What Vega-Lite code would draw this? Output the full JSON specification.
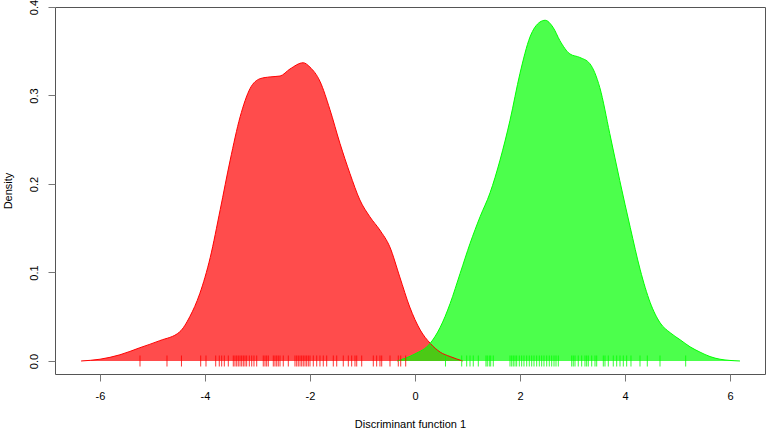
{
  "$schema": "https://vega.github.io/schema/vega-lite/v6.json",
  "width": 710,
  "height": 367,
  "autosize": {"type": "none"},
  "padding": {"left": 55, "top": 7, "right": 2, "bottom": 55},
  "background": "white",
  "config": {
    "view": {"stroke": "#555555", "strokeWidth": 1},
    "font": "Liberation Sans",
    "axis": {
      "domain": false,
      "grid": false,
      "tickColor": "#777777",
      "tickSize": 7,
      "labelFont": "Liberation Sans",
      "labelFontSize": 11,
      "labelColor": "#000000",
      "titleFont": "Liberation Sans",
      "titleFontSize": 11,
      "titleFontWeight": "normal",
      "titleColor": "#000000"
    }
  },
  "datasets": {
    "dens": [
      {"x": -6.36, "density": 0.0, "group": "A"},
      {"x": -6.0, "density": 0.002, "group": "A"},
      {"x": -5.62, "density": 0.007, "group": "A"},
      {"x": -5.24, "density": 0.015, "group": "A"},
      {"x": -4.86, "density": 0.023, "group": "A"},
      {"x": -4.48, "density": 0.033, "group": "A"},
      {"x": -4.29, "density": 0.05, "group": "A"},
      {"x": -4.1, "density": 0.076, "group": "A"},
      {"x": -3.9, "density": 0.117, "group": "A"},
      {"x": -3.71, "density": 0.171, "group": "A"},
      {"x": -3.52, "density": 0.227, "group": "A"},
      {"x": -3.33, "density": 0.276, "group": "A"},
      {"x": -3.14, "density": 0.308, "group": "A"},
      {"x": -2.95, "density": 0.319, "group": "A"},
      {"x": -2.76, "density": 0.321, "group": "A"},
      {"x": -2.57, "density": 0.322, "group": "A"},
      {"x": -2.38, "density": 0.33, "group": "A"},
      {"x": -2.13, "density": 0.337, "group": "A"},
      {"x": -2.0, "density": 0.332, "group": "A"},
      {"x": -1.81, "density": 0.316, "group": "A"},
      {"x": -1.62, "density": 0.284, "group": "A"},
      {"x": -1.43, "density": 0.246, "group": "A"},
      {"x": -1.24, "density": 0.212, "group": "A"},
      {"x": -1.05, "density": 0.182, "group": "A"},
      {"x": -0.86, "density": 0.163, "group": "A"},
      {"x": -0.67, "density": 0.148, "group": "A"},
      {"x": -0.48, "density": 0.129, "group": "A"},
      {"x": -0.29, "density": 0.095, "group": "A"},
      {"x": -0.1, "density": 0.061, "group": "A"},
      {"x": 0.1, "density": 0.035, "group": "A"},
      {"x": 0.29, "density": 0.02, "group": "A"},
      {"x": 0.48, "density": 0.01, "group": "A"},
      {"x": 0.67, "density": 0.005, "group": "A"},
      {"x": 0.91, "density": 0.0, "group": "A"},
      {"x": -0.34, "density": 0.0, "group": "B"},
      {"x": -0.19, "density": 0.003, "group": "B"},
      {"x": 0.0, "density": 0.008, "group": "B"},
      {"x": 0.29, "density": 0.02, "group": "B"},
      {"x": 0.48, "density": 0.038, "group": "B"},
      {"x": 0.67, "density": 0.065, "group": "B"},
      {"x": 0.86, "density": 0.099, "group": "B"},
      {"x": 1.05, "density": 0.133, "group": "B"},
      {"x": 1.24, "density": 0.163, "group": "B"},
      {"x": 1.43, "density": 0.19, "group": "B"},
      {"x": 1.62, "density": 0.227, "group": "B"},
      {"x": 1.81, "density": 0.272, "group": "B"},
      {"x": 2.0, "density": 0.325, "group": "B"},
      {"x": 2.19, "density": 0.366, "group": "B"},
      {"x": 2.38, "density": 0.383, "group": "B"},
      {"x": 2.48, "density": 0.385, "group": "B"},
      {"x": 2.63, "density": 0.377, "group": "B"},
      {"x": 2.76, "density": 0.362, "group": "B"},
      {"x": 2.95, "density": 0.347, "group": "B"},
      {"x": 3.14, "density": 0.343, "group": "B"},
      {"x": 3.33, "density": 0.336, "group": "B"},
      {"x": 3.52, "density": 0.309, "group": "B"},
      {"x": 3.71, "density": 0.257, "group": "B"},
      {"x": 3.9, "density": 0.204, "group": "B"},
      {"x": 4.1, "density": 0.151, "group": "B"},
      {"x": 4.29, "density": 0.103, "group": "B"},
      {"x": 4.48, "density": 0.066, "group": "B"},
      {"x": 4.67, "density": 0.043, "group": "B"},
      {"x": 4.86, "density": 0.032, "group": "B"},
      {"x": 5.05, "density": 0.024, "group": "B"},
      {"x": 5.24, "density": 0.016, "group": "B"},
      {"x": 5.43, "density": 0.01, "group": "B"},
      {"x": 5.62, "density": 0.005, "group": "B"},
      {"x": 5.81, "density": 0.002, "group": "B"},
      {"x": 6.19, "density": 0.0, "group": "B"}
    ],
    "rug": [
      {"x": -5.238, "group": "A"}, {"x": -4.724, "group": "A"}, {"x": -4.448, "group": "A"},
      {"x": -4.082, "group": "A"}, {"x": -3.981, "group": "A"}, {"x": -3.796, "group": "A"},
      {"x": -3.728, "group": "A"}, {"x": -3.682, "group": "A"}, {"x": -3.632, "group": "A"},
      {"x": -3.556, "group": "A"}, {"x": -3.461, "group": "A"}, {"x": -3.429, "group": "A"},
      {"x": -3.396, "group": "A"}, {"x": -3.366, "group": "A"}, {"x": -3.333, "group": "A"},
      {"x": -3.301, "group": "A"}, {"x": -3.27, "group": "A"}, {"x": -3.238, "group": "A"},
      {"x": -3.206, "group": "A"}, {"x": -3.156, "group": "A"}, {"x": -3.11, "group": "A"},
      {"x": -3.067, "group": "A"}, {"x": -3.015, "group": "A"}, {"x": -2.89, "group": "A"},
      {"x": -2.857, "group": "A"}, {"x": -2.825, "group": "A"}, {"x": -2.794, "group": "A"},
      {"x": -2.699, "group": "A"}, {"x": -2.667, "group": "A"}, {"x": -2.634, "group": "A"},
      {"x": -2.604, "group": "A"}, {"x": -2.571, "group": "A"}, {"x": -2.509, "group": "A"},
      {"x": -2.413, "group": "A"}, {"x": -2.286, "group": "A"}, {"x": -2.253, "group": "A"},
      {"x": -2.223, "group": "A"}, {"x": -2.19, "group": "A"}, {"x": -2.158, "group": "A"},
      {"x": -2.128, "group": "A"}, {"x": -2.095, "group": "A"}, {"x": -2.063, "group": "A"},
      {"x": -2.032, "group": "A"}, {"x": -2.0, "group": "A"}, {"x": -1.937, "group": "A"},
      {"x": -1.872, "group": "A"}, {"x": -1.81, "group": "A"}, {"x": -1.747, "group": "A"},
      {"x": -1.682, "group": "A"}, {"x": -1.556, "group": "A"}, {"x": -1.491, "group": "A"},
      {"x": -1.366, "group": "A"}, {"x": -1.27, "group": "A"}, {"x": -1.206, "group": "A"},
      {"x": -1.143, "group": "A"}, {"x": -1.11, "group": "A"}, {"x": -1.015, "group": "A"},
      {"x": -0.794, "group": "A"}, {"x": -0.73, "group": "A"}, {"x": -0.667, "group": "A"},
      {"x": -0.634, "group": "A"}, {"x": -0.476, "group": "A"}, {"x": -0.318, "group": "A"},
      {"x": -0.272, "group": "A"}, {"x": -0.177, "group": "A"},
      {"x": 0.581, "group": "B"}, {"x": 0.89, "group": "B"}, {"x": 0.985, "group": "B"},
      {"x": 1.048, "group": "B"}, {"x": 1.11, "group": "B"}, {"x": 1.206, "group": "B"},
      {"x": 1.352, "group": "B"}, {"x": 1.377, "group": "B"}, {"x": 1.415, "group": "B"},
      {"x": 1.442, "group": "B"}, {"x": 1.491, "group": "B"}, {"x": 1.81, "group": "B"},
      {"x": 1.842, "group": "B"}, {"x": 1.872, "group": "B"}, {"x": 1.905, "group": "B"},
      {"x": 1.937, "group": "B"}, {"x": 1.987, "group": "B"}, {"x": 2.032, "group": "B"},
      {"x": 2.076, "group": "B"}, {"x": 2.128, "group": "B"}, {"x": 2.177, "group": "B"},
      {"x": 2.223, "group": "B"}, {"x": 2.267, "group": "B"}, {"x": 2.318, "group": "B"},
      {"x": 2.368, "group": "B"}, {"x": 2.413, "group": "B"}, {"x": 2.457, "group": "B"},
      {"x": 2.509, "group": "B"}, {"x": 2.558, "group": "B"}, {"x": 2.604, "group": "B"},
      {"x": 2.648, "group": "B"}, {"x": 2.686, "group": "B"}, {"x": 2.73, "group": "B"},
      {"x": 2.985, "group": "B"}, {"x": 3.015, "group": "B"}, {"x": 3.048, "group": "B"},
      {"x": 3.11, "group": "B"}, {"x": 3.175, "group": "B"}, {"x": 3.238, "group": "B"},
      {"x": 3.27, "group": "B"}, {"x": 3.301, "group": "B"}, {"x": 3.366, "group": "B"},
      {"x": 3.429, "group": "B"}, {"x": 3.461, "group": "B"}, {"x": 3.587, "group": "B"},
      {"x": 3.619, "group": "B"}, {"x": 3.682, "group": "B"}, {"x": 3.777, "group": "B"},
      {"x": 3.842, "group": "B"}, {"x": 3.905, "group": "B"}, {"x": 3.968, "group": "B"},
      {"x": 4.032, "group": "B"}, {"x": 4.114, "group": "B"}, {"x": 4.286, "group": "B"},
      {"x": 4.425, "group": "B"}, {"x": 4.667, "group": "B"}, {"x": 5.156, "group": "B"}
    ]
  },
  "layer": [
    {
      "data": {"name": "dens"},
      "mark": {"type": "area", "interpolate": "monotone", "opacity": 0.7, "line": {"strokeWidth": 1}},
      "encoding": {
        "x": {
          "field": "x", "type": "quantitative",
          "scale": {"domain": [-6.857, 6.667], "nice": false, "zero": false},
          "axis": {"values": [-6, -4, -2, 0, 2, 4, 6], "labelExpr": "'' + datum.value", "labelPadding": 9, "title": "Discriminant function 1", "titlePadding": 17}
        },
        "y": {
          "field": "density", "type": "quantitative", "stack": null,
          "scale": {"domain": [-0.0147, 0.4], "nice": false, "zero": false},
          "axis": {"values": [0, 0.1, 0.2, 0.3, 0.4], "format": ".1f", "labelAngle": 270, "labelAlign": "center", "labelBaseline": "bottom", "labelPadding": 9, "title": "Density", "titlePadding": 15}
        },
        "color": {
          "field": "group", "type": "nominal",
          "scale": {"domain": ["A", "B"], "range": ["#ff0000", "#00ff00"]},
          "legend": null
        }
      }
    },
    {
      "data": {"name": "rug"},
      "mark": {"type": "tick", "orient": "vertical", "size": 11, "thickness": 1, "opacity": 0.8},
      "encoding": {
        "x": {"field": "x", "type": "quantitative"},
        "y": {"datum": 0},
        "color": {"field": "group", "type": "nominal", "legend": null}
      }
    }
  ]
}
